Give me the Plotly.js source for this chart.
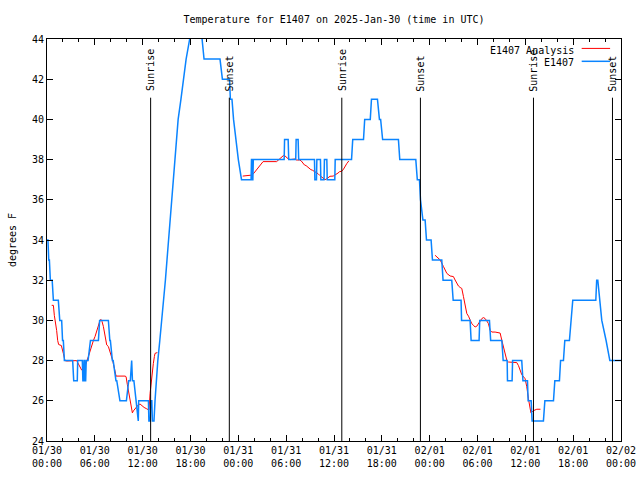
<!DOCTYPE html>
<html>
<head>
<meta charset="utf-8">
<script src="https://cdn.plot.ly/plotly-3.0.1.min.js"></script>
<style>html,body{margin:0;padding:0;background:#fff;}#chart{width:640px;height:480px;}</style>
</head>
<body>
<div id="chart"></div>
<script>
// hours since 2025-01-30 00:00 UTC
const obsHours = [0.0,0.12,0.22,0.3,0.42,0.65,0.8,1.42,1.6,1.84,1.95,2.05,2.18,3.22,3.35,3.8,3.85,4.43,4.5,4.6,4.64,4.72,4.78,4.85,4.92,5.15,5.45,6.45,6.6,7.7,7.88,7.95,8.2,8.3,8.65,8.75,9.15,9.96,10.25,10.45,10.62,10.72,10.9,11.13,11.36,11.45,11.5,12.72,12.78,12.95,13.0,13.15,13.22,13.42,13.55,13.7,13.9,14.15,14.4,14.65,14.85,15.05,15.25,15.45,15.6,15.8,16.0,16.2,16.45,16.8,17.1,17.45,17.9,18.2,18.6,18.9,19.2,19.45,19.7,21.7,22.0,22.9,23.0,23.2,23.4,23.7,24.0,24.4,25.6,25.65,25.72,25.76,25.82,25.88,29.75,29.8,30.25,30.32,31.2,31.25,31.5,31.57,33.55,33.6,33.8,33.85,34.3,34.35,34.75,34.8,35.1,35.15,36.1,36.15,38.2,38.35,39.7,39.85,40.55,40.7,41.45,41.7,41.85,42.1,44.08,44.25,46.26,46.45,46.72,46.85,47.15,47.43,47.6,48.18,48.35,49.52,49.68,50.77,50.95,51.94,52.0,53.07,53.2,54.2,54.28,55.5,55.65,57.05,57.22,57.72,57.76,58.34,58.4,59.55,59.7,60.27,60.35,60.73,60.85,62.27,62.45,63.53,63.7,64.28,64.42,64.78,64.95,65.53,65.75,65.95,68.84,68.95,69.09,69.3,69.59,70.13,70.6,72.0];
const obsTemp = [34,34,33,33,32,32,31,31,30,30,29,29,28,28,27,27,28,28,27,27,28,28,27,27,28,28,29,29,30,30,29,29,28,28,27,27,26,26,27,27,28,27,27,26,25,25,26,26,25,25,26,26,25,25,26,27,28,29,30,31,32,33,34,35,36,37,38,39,40,41,42,43,44,45,46,46,45,44,43,43,42,42,41,41,40,39,38,37,37,38,38,37,37,38,38,39,39,38,38,39,39,38,38,37,37,38,38,37,37,38,38,37,37,38,38,39,39,40,40,41,41,40,40,39,39,38,38,37,37,36,35,35,34,34,33,33,32,32,31,31,30,30,29,29,30,30,29,29,28,28,27,27,28,28,27,27,26,26,25,25,26,26,27,27,28,28,29,29,30,31,31,32,32,31,30,29,28,28];

const anaHours = [0.59,0.8,0.92,1.09,1.21,1.34,1.46,1.8,1.92,2.05,2.26,2.47,3.72,3.85,4.06,4.35,4.56,4.77,4.98,5.19,5.4,5.61,5.82,6.03,6.23,6.44,6.65,6.78,6.9,7.07,7.2,7.32,7.49,7.7,7.91,8.12,8.24,8.41,8.54,8.66,9.79,9.92,10.08,10.25,10.42,10.59,10.71,10.84,11.05,11.46,11.67,11.88,12.18,12.51,12.8,12.93,13.13,13.34,13.47,13.55,13.84,
  null,
  24.55,25.68,25.9,26.1,26.3,26.5,26.7,26.9,27.1,28.8,29.0,29.2,29.4,29.65,29.86,30.07,30.28,30.5,30.9,31.1,31.3,31.7,31.9,32.1,32.3,32.5,32.7,32.9,33.1,33.3,33.6,33.8,34.0,34.25,34.46,34.67,34.88,35.1,35.3,35.5,35.9,36.1,36.3,36.5,36.7,36.97,37.2,37.4,37.6,37.85,
  null,
  48.68,49.31,49.73,50.15,50.56,50.98,51.19,51.4,51.61,51.82,52.03,52.24,52.45,52.66,52.87,53.07,53.28,53.49,53.7,53.91,54.12,54.33,54.54,54.75,54.96,55.17,55.37,55.58,55.79,56.21,56.84,57.05,57.26,57.47,57.68,57.89,58.51,58.93,59.14,59.35,59.55,59.97,60.18,60.39,60.55,60.7,60.85,61.02,61.44,61.9];
const anaTemp = [30.75,30.75,30.25,29.85,29.5,29.0,28.8,28.75,28.6,28.36,28.0,27.98,28.0,27.9,27.7,27.53,27.5,27.7,27.95,28.2,28.5,28.78,29.0,29.2,29.5,29.7,30.0,30.05,29.95,29.7,29.36,29.0,28.78,28.7,28.45,28.2,28.0,27.7,27.5,27.23,27.23,27.2,26.8,26.4,25.95,25.6,25.4,25.5,25.6,25.8,25.84,25.75,25.67,25.6,25.54,26.37,27.2,27.86,28.2,28.36,28.4,
  null,
  37.18,37.23,37.3,37.4,37.48,37.6,37.7,37.8,37.9,37.9,37.98,38.06,38.13,38.2,38.18,38.1,38.03,38.0,38.0,38.03,37.98,37.98,37.93,37.8,37.73,37.7,37.63,37.58,37.5,37.47,37.4,37.37,37.3,37.2,37.13,37.05,37.0,37.05,37.13,37.17,37.18,37.22,37.27,37.33,37.4,37.42,37.53,37.7,37.8,37.93,
  null,
  33.24,33.01,32.68,32.34,32.21,32.18,32.01,31.85,31.71,31.64,31.59,31.18,30.68,30.34,30.21,30.01,29.84,29.76,29.67,29.71,29.84,29.97,30.09,30.14,30.09,29.97,29.84,29.51,29.42,29.42,29.37,29.01,28.68,28.34,28.01,27.93,27.91,27.9,27.75,27.53,27.3,27.1,26.7,26.1,25.6,25.4,25.45,25.51,25.58,25.58];

const sunriseHours = [13.0, 36.98, 61.02];
const sunsetHours = [22.87, 46.84, 70.93];
const tickDays = ["01/30","01/31","02/01","02/02"];

const base = Date.UTC(2025, 0, 30);
const toX = h => (h === null ? null : base + h * 3600000);
const FONT = "DejaVu Sans Mono, Liberation Mono, monospace";

const traces = [
  {x: anaHours.map(toX), y: anaTemp, type: 'scatter', mode: 'lines', name: 'E1407 Analysis',
   line: {color: '#ff0000', width: 1}, connectgaps: false, hoverinfo: 'skip'},
  {x: obsHours.map(toX), y: obsTemp, type: 'scatter', mode: 'lines', name: 'E1407',
   line: {color: '#0a84ff', width: 1.5}, hoverinfo: 'skip'}
];

const shapes = [];
const annotations = [];
const events = sunriseHours.map(h => ({h, t: 'Sunrise'})).concat(sunsetHours.map(h => ({h, t: 'Sunset'})));
events.forEach(e => {
  shapes.push({type: 'line', xref: 'x', yref: 'y', x0: toX(e.h), x1: toX(e.h), y0: 24, y1: 41.08,
    line: {color: '#000', width: 1}});
  annotations.push({xref: 'x', yref: 'y', x: toX(e.h), y: 41.3, text: e.t, textangle: -90,
    showarrow: false, xanchor: 'center', yanchor: 'bottom', font: {family: FONT, size: 10, color: '#000'}});
});

// legend (text on the left, sample line on the right)
const legendItems = [{name: 'E1407 Analysis', color: '#ff0000', width: 1, y: 0.9726},
                     {name: 'E1407', color: '#0a84ff', width: 1.5, y: 0.9405}];
legendItems.forEach(it => {
  annotations.push({xref: 'paper', yref: 'paper', x: 0.921, y: it.y, text: it.name, showarrow: false,
    xanchor: 'right', yanchor: 'middle', font: {family: FONT, size: 10, color: '#000'}});
  shapes.push({type: 'line', xref: 'paper', yref: 'paper', x0: 0.9315, x1: 0.981, y0: it.y + 0.004, y1: it.y + 0.004,
    line: {color: it.color, width: it.width}});
});

const tickvals = [], ticktext = [];
for (let k = 0; k <= 12; k++) {
  tickvals.push(toX(k * 6));
  const hh = String((k * 6) % 24).padStart(2, '0');
  ticktext.push(tickDays[Math.floor(k / 4)] + '<br>' + hh + ':00');
}

const layout = {
  width: 640, height: 480,
  margin: {l: 47, r: 19, t: 39, b: 39, pad: 0},
  paper_bgcolor: '#fff', plot_bgcolor: '#fff',
  showlegend: false,
  font: {family: FONT, size: 10, color: '#000'},
  title: {text: 'Temperature for E1407 on 2025-Jan-30 (time in UTC)', x: 0.5, xref: 'paper',
    y: 0.96, yref: 'container', yanchor: 'middle', font: {family: FONT, size: 10, color: '#000'}},
  xaxis: {type: 'date', range: [toX(0), toX(72)], tickmode: 'array', tickvals: tickvals, ticktext: ticktext,
    ticks: 'inside', ticklen: 6, tickcolor: '#000', showline: true, linecolor: '#000', linewidth: 1,
    mirror: 'ticks', showgrid: false, zeroline: false,
    minor: {dtick: 7200000, tick0: toX(0), ticks: 'inside', ticklen: 3, tickcolor: '#000', showgrid: false},
    tickfont: {family: FONT, size: 10, color: '#000'}},
  yaxis: {range: [24, 44], dtick: 2, tick0: 24, ticks: 'inside', ticklen: 6, tickcolor: '#000',
    showline: true, linecolor: '#000', linewidth: 1, mirror: 'ticks', showgrid: false, zeroline: false,
    tickfont: {family: FONT, size: 10, color: '#000'},
    title: {text: 'degrees F', standoff: 13, font: {family: FONT, size: 10, color: '#000'}}},
  shapes: shapes,
  annotations: annotations
};

Plotly.newPlot('chart', traces, layout, {staticPlot: true, displayModeBar: false});
</script>
</body>
</html>
